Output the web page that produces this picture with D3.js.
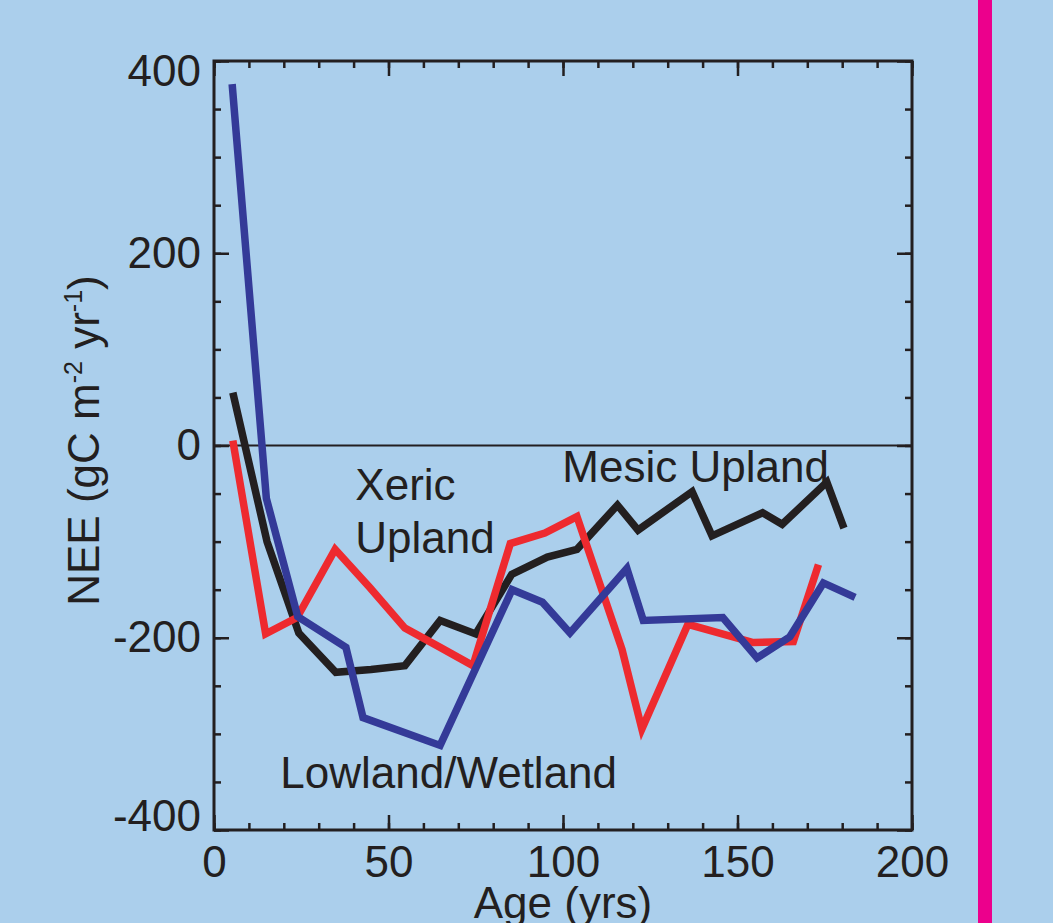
<!DOCTYPE html>
<html lang="en">
<head>
    <meta charset="utf-8">
    <title>NEE vs stand age</title>
    <script type="text/javascript" src="https://d3js.org/d3.v7.min.js"></script>
    <style type="text/css">
        body { margin: 0; background: #abcfec; }
        svg { display: block; }
        text { font-family: "Liberation Sans", Arial, sans-serif; fill: #231f20; }
    </style>
</head>
<body>
<script type="text/javascript">
    var w = 1053;
    var h = 923;

    // stand age (yrs) and NEE (gC m-2 yr-1)
    var mesicAge = [5.4, 15.2, 24.3, 34.9, 45, 54.7, 64.8, 75, 85.3, 95.5, 104, 115.6, 121.5, 137, 142.7, 157.2, 162.8, 175.6, 180.5];
    var mesicNEE = [55, -100, -195, -236, -233, -229, -182, -196, -134, -116, -108, -62, -88, -48, -94, -70, -82, -38, -86];

    var xericAge = [5.4, 14.8, 23.8, 34.7, 44.7, 54.7, 64.8, 74.2, 84.9, 94.8, 104, 116.9, 122.6, 135.8, 154.5, 166, 173.2];
    var xericNEE = [5, -196, -179, -108, -148, -190, -210, -229, -102, -91, -74, -212, -295, -186, -205, -204, -124];

    var lowlandAge = [5.2, 15, 24, 37.8, 42.7, 64.8, 85.4, 94.1, 102, 118.3, 123, 145.8, 155.6, 165, 174.6, 183.7];
    var lowlandNEE = [376, -55, -178, -210, -283, -312, -150, -163, -195, -128, -182, -179, -221, -199, -143, -158];

    var xTicks = [0, 50, 100, 150, 200];
    var yTicks = [-400, -200, 0, 200, 400];

    var margin = {left: 214, right: 141, top: 61, bottom: 93};
    var x = d3.scaleLinear().domain([0, 200]).range([margin.left, w - margin.right]);
    var y = d3.scaleLinear().domain([-400, 400]).range([h - margin.bottom, margin.top]);

    var svg = d3.select("body").append("svg")
            .attr("width", w)
            .attr("height", h);

    svg.append("rect")
            .attr("width", w).attr("height", h)
            .attr("fill", "#abcfec");

    // magenta divider on the right
    svg.append("rect")
            .attr("x", 978).attr("y", 0)
            .attr("width", 14).attr("height", h)
            .attr("fill", "#ec008c");

    var axisColor = "#231f20";
    var fontSize = "44px";
    var xMinor = d3.range(0, 201, 10);
    var yMinor = d3.range(-400, 401, 50);
    var fmt = function (d) { return String(d); }; // plain hyphen for negatives

    function styleAxis(g) {
        g.select(".domain").remove();
        g.selectAll(".tick line").attr("stroke", axisColor).attr("stroke-width", 2.5);
        g.selectAll("text").attr("fill", axisColor)
                .style("font-family", "'Liberation Sans', Arial, sans-serif")
                .style("font-size", fontSize);
    }

    // bottom axis: labels + major ticks inward, minor ticks
    svg.append("g")
            .attr("transform", "translate(0," + y(-400) + ")")
            .call(d3.axisBottom(x).tickValues(xMinor).tickSize(-7).tickFormat(""))
            .call(styleAxis);
    svg.append("g")
            .attr("transform", "translate(0," + y(-400) + ")")
            .call(d3.axisBottom(x).tickValues(xTicks).tickSize(-15).tickFormat(fmt))
            .call(styleAxis)
            .selectAll("text").attr("dy", "0.71em").attr("y", 16);
    // top axis mirrored
    svg.append("g")
            .attr("transform", "translate(0," + y(400) + ")")
            .call(d3.axisTop(x).tickValues(xMinor).tickSize(-7).tickFormat(""))
            .call(styleAxis);
    svg.append("g")
            .attr("transform", "translate(0," + y(400) + ")")
            .call(d3.axisTop(x).tickValues(xTicks).tickSize(-15).tickFormat(""))
            .call(styleAxis);

    // left axis
    svg.append("g")
            .attr("transform", "translate(" + x(0) + ",0)")
            .call(d3.axisLeft(y).tickValues(yMinor).tickSize(-7).tickFormat(""))
            .call(styleAxis);
    svg.append("g")
            .attr("transform", "translate(" + x(0) + ",0)")
            .call(d3.axisLeft(y).tickValues(yTicks).tickSize(-15).tickFormat(fmt))
            .call(styleAxis)
            .selectAll("text")
            .attr("x", -13)
            .attr("y", function (d) {
                // end labels sit just inside the frame, as in the original
                return d === 400 ? 10 : (d === -400 ? -14 : 0);
            });
    // right axis mirrored
    svg.append("g")
            .attr("transform", "translate(" + x(200) + ",0)")
            .call(d3.axisRight(y).tickValues(yMinor).tickSize(-7).tickFormat(""))
            .call(styleAxis);
    svg.append("g")
            .attr("transform", "translate(" + x(200) + ",0)")
            .call(d3.axisRight(y).tickValues(yTicks).tickSize(-15).tickFormat(""))
            .call(styleAxis);

    // frame
    svg.append("rect")
            .attr("x", x(0)).attr("y", y(400))
            .attr("width", x(200) - x(0)).attr("height", y(-400) - y(400))
            .attr("fill", "none")
            .attr("stroke", axisColor)
            .attr("stroke-width", 3);

    // zero line
    svg.append("line")
            .attr("x1", x(0)).attr("x2", x(200))
            .attr("y1", y(0)).attr("y2", y(0))
            .attr("stroke", axisColor)
            .attr("stroke-width", 2);

    var series = [
        {age: mesicAge, nee: mesicNEE, color: "#231f20"},
        {age: xericAge, nee: xericNEE, color: "#ee2a2f"},
        {age: lowlandAge, nee: lowlandNEE, color: "#343a98"}
    ];

    var line = d3.line()
            .x(function (d) { return x(d[0]); })
            .y(function (d) { return y(d[1]); });

    svg.selectAll("path.series")
            .data(series)
            .enter()
            .append("path")
            .attr("class", "series")
            .attr("d", function (s) { return line(d3.zip(s.age, s.nee)); })
            .attr("fill", "none")
            .attr("stroke", function (s) { return s.color; })
            .attr("stroke-width", 7.5)
            .attr("stroke-linejoin", "miter");

    // series labels (data coords)
    var labels = [
        {text: "Mesic Upland", age: 99.8, nee: -38},
        {text: "Xeric", age: 40.5, nee: -57},
        {text: "Upland", age: 40.5, nee: -112},
        {text: "Lowland/Wetland", age: 19, nee: -356}
    ];
    svg.selectAll("text.label")
            .data(labels)
            .enter()
            .append("text")
            .attr("class", "label")
            .attr("x", function (d) { return x(d.age); })
            .attr("y", function (d) { return y(d.nee); })
            .attr("font-size", fontSize)
            .text(function (d) { return d.text; });

    // axis titles
    svg.append("text")
            .attr("x", x(100))
            .attr("y", 918)
            .attr("text-anchor", "middle")
            .attr("font-size", fontSize)
            .text("Age (yrs)");

    var yTitle = svg.append("text")
            .attr("transform", "translate(99," + (y(0) - 5) + ") rotate(-90)")
            .attr("text-anchor", "middle")
            .attr("font-size", fontSize);
    yTitle.append("tspan").text("NEE (gC m");
    yTitle.append("tspan").attr("font-size", "25px").attr("dy", -17).text("-2");
    yTitle.append("tspan").attr("dy", 17).text(" yr");
    yTitle.append("tspan").attr("font-size", "25px").attr("dy", -17).text("-1");
    yTitle.append("tspan").attr("dy", 17).text(")");
</script>
</body>
</html>
